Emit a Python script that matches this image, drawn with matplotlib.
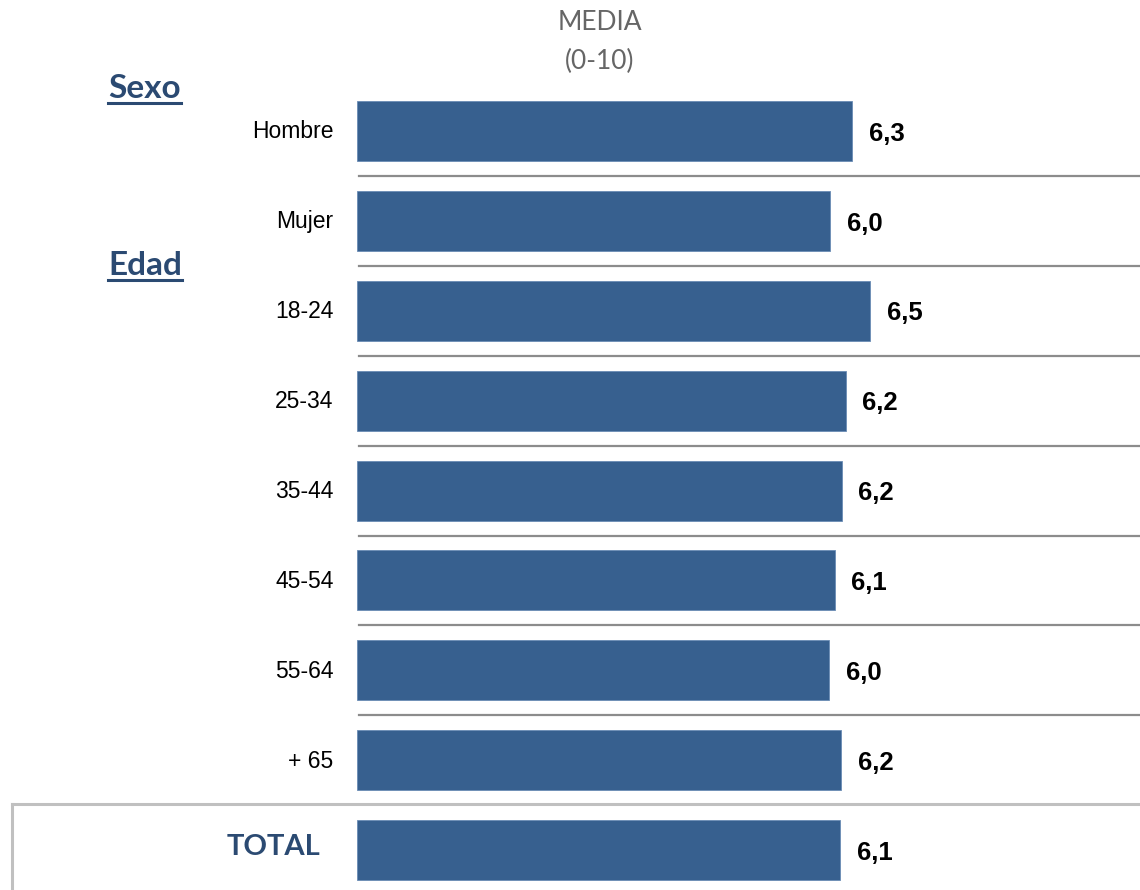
import matplotlib.pyplot as plt
from matplotlib.lines import Line2D
import numpy as np

categories = ['Hombre', 'Mujer', '18-24', '25-34', '35-44', '45-54', '55-64', '+ 65', 'TOTAL']
means = [6.29, 6.01, 6.52, 6.21, 6.16, 6.07, 6.00, 6.15, 6.14]
mean_labels = ['6,3', '6,0', '6,5', '6,2', '6,2', '6,1', '6,0', '6,2', '6,1']
groups = ['Sexo', 'Edad']

W, H = 1140, 890
navy = '#2b4a72'
bar_color = '#37608f'

fig = plt.figure(figsize=(W / 100, H / 100), dpi=100)
ax = fig.add_axes([357 / W, 0, 1 - 357 / W, (H - 86) / H])

y = np.arange(len(categories))
ax.barh(y, means, height=0.667, color=bar_color, edgecolor='#6a8cb5', linewidth=0.6)
ax.set_xlim(0, (W - 357) / 78.7)
ax.set_ylim((H - 131) / 89.9, -0.5)
ax.axis('off')

# gray separators between rows (not before TOTAL)
for i in range(len(categories) - 2):
    ax.axhline(i + 0.5, color='#8c8c8c', lw=1.6, xmin=0.003)

for i, (cat, v, lab) in enumerate(zip(categories, means, mean_labels)):
    ax.text(v + 0.21, i + 0.03, lab, ha='left', va='center', fontsize=18.5,
            fontweight='bold', family='Liberation Sans', color='black')
    if cat == 'TOTAL':
        continue
    ax.text(-0.3, i + 0.01, cat, ha='right', va='center', fontsize=16.5,
            family='Liberation Sans', color='black')

# header
fig.text(600 / W, 1 - 23 / H, 'MEDIA', ha='center', va='center',
         fontsize=19, family='Lato', color='#666666')
fig.text(600 / W, 1 - 61 / H, '(0-10)', ha='center', va='center',
         fontsize=19, family='Lato', color='#666666')

# group titles, underlined
fig.canvas.draw()
renderer = fig.canvas.get_renderer()
for name, base in zip(groups, [98, 275]):
    t = fig.text(108 / W, 1 - base / H, name, ha='left', va='baseline',
                 fontsize=24, fontweight='bold', family='Lato', color=navy)
    bb = t.get_window_extent(renderer=renderer)
    yl = 1 - (base + 5) / H
    fig.add_artist(Line2D([bb.x0 / W, bb.x1 / W], [yl, yl], color=navy, lw=2.2))

total = ax.text(-0.47, len(categories) - 1.04, 'TOTAL', ha='right', va='center',
                fontsize=21, fontweight='bold', family='Lato', color=navy)

# box around total
ybox = 1 - 804 / H
fig.add_artist(Line2D([12 / W, 1], [ybox, ybox], color='#c0c0c0', lw=2.2))
fig.add_artist(Line2D([12 / W, 12 / W], [0, ybox], color='#c0c0c0', lw=2.2))

fig.savefig('out.png', dpi=100, facecolor='white')
